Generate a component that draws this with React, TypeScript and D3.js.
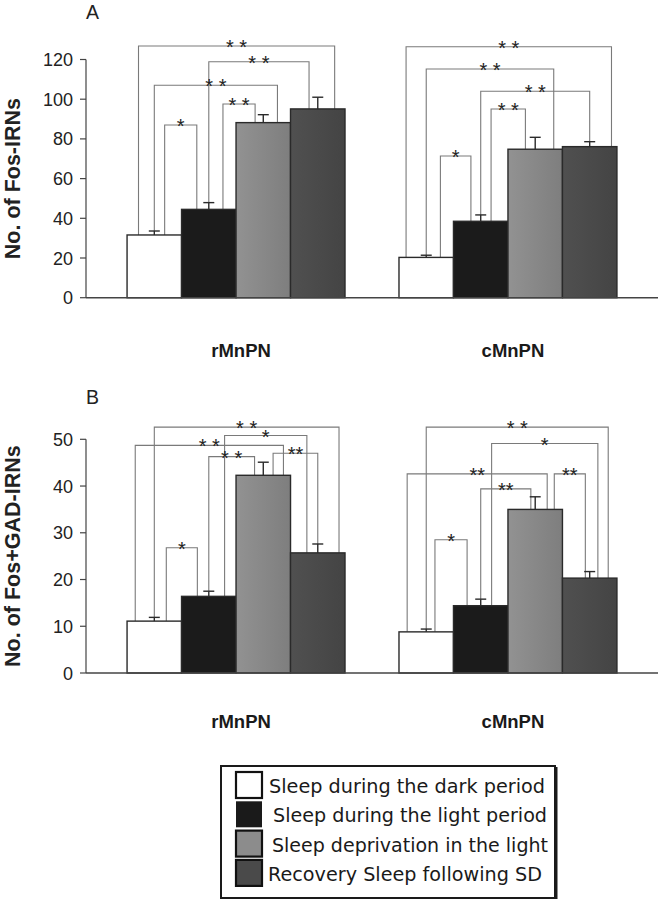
import React from "react";
import * as d3 from "d3";

const categories = ["rMnPN", "cMnPN"];
const seriesNames = [
  "Sleep during the dark period",
  "Sleep during the light period",
  "Sleep deprivation in the light",
  "Recovery Sleep following SD",
];
// Panel A: No. of Fos-IRNs
const fosMeans = [
  [31.6, 44.5, 88.2, 95.1],
  [20.3, 38.5, 74.8, 76.1],
];
const fosErrors = [
  [2.0, 3.4, 4.0, 5.9],
  [1.1, 3.2, 6.0, 2.5],
];
const fosTicks = [0, 20, 40, 60, 80, 100, 120];
// Panel B: No. of Fos+GAD-IRNs
const gadMeans = [
  [11.1, 16.4, 42.3, 25.7],
  [8.8, 14.4, 35.0, 20.3],
];
const gadErrors = [
  [0.8, 1.1, 2.8, 1.9],
  [0.6, 1.4, 2.7, 1.4],
];
const gadTicks = [0, 10, 20, 30, 40, 50];

// significance brackets: category, bar a, bar b, level (data units), label,
// leg ends ("bar" top or "err" top), leg position inside the bar (fraction)
type Br = { c: number; a: number; b: number; level: number; label: string; aTo: string; bTo: string; aPos: number; bPos: number };
const fosBrackets: Br[] = [
  { c: 0, a: 0, b: 3, level: 126.8, label: "* *", aTo: "bar", bTo: "bar", aPos: 0.21, bPos: 0.81 },
  { c: 0, a: 1, b: 3, level: 118.9, label: "* *", aTo: "err", bTo: "bar", aPos: 0.5, bPos: 0.34 },
  { c: 0, a: 0, b: 2, level: 107.0, label: "* *", aTo: "err", bTo: "bar", aPos: 0.5, bPos: 0.76 },
  { c: 0, a: 1, b: 2, level: 97.6, label: "* *", aTo: "bar", bTo: "bar", aPos: 0.76, bPos: 0.35 },
  { c: 0, a: 0, b: 1, level: 87.0, label: "*", aTo: "bar", bTo: "bar", aPos: 0.69, bPos: 0.28 },
  { c: 1, a: 0, b: 3, level: 126.4, label: "* *", aTo: "bar", bTo: "bar", aPos: 0.13, bPos: 0.9 },
  { c: 1, a: 0, b: 2, level: 115.2, label: "* *", aTo: "err", bTo: "bar", aPos: 0.5, bPos: 0.84 },
  { c: 1, a: 1, b: 3, level: 104.0, label: "* *", aTo: "err", bTo: "err", aPos: 0.5, bPos: 0.5 },
  { c: 1, a: 1, b: 2, level: 95.1, label: "* *", aTo: "bar", bTo: "bar", aPos: 0.69, bPos: 0.32 },
  { c: 1, a: 0, b: 1, level: 71.4, label: "*", aTo: "bar", bTo: "bar", aPos: 0.76, bPos: 0.32 },
];
const gadBrackets: Br[] = [
  { c: 0, a: 0, b: 3, level: 52.6, label: "* *", aTo: "err", bTo: "bar", aPos: 0.5, bPos: 0.89 },
  { c: 0, a: 1, b: 3, level: 50.8, label: "*", aTo: "bar", bTo: "bar", aPos: 0.79, bPos: 0.3 },
  { c: 0, a: 0, b: 2, level: 48.7, label: "* *", aTo: "bar", bTo: "bar", aPos: 0.15, bPos: 0.87 },
  { c: 0, a: 1, b: 2, level: 46.3, label: "* *", aTo: "err", bTo: "bar", aPos: 0.5, bPos: 0.34 },
  { c: 0, a: 2, b: 3, level: 47.0, label: "**", aTo: "bar", bTo: "err", aPos: 0.68, bPos: 0.5 },
  { c: 0, a: 0, b: 1, level: 26.8, label: "*", aTo: "bar", bTo: "bar", aPos: 0.72, bPos: 0.29 },
  { c: 1, a: 0, b: 3, level: 52.6, label: "* *", aTo: "err", bTo: "bar", aPos: 0.5, bPos: 0.84 },
  { c: 1, a: 1, b: 3, level: 49.1, label: "*", aTo: "bar", bTo: "bar", aPos: 0.7, bPos: 0.65 },
  { c: 1, a: 0, b: 2, level: 42.6, label: "**", aTo: "bar", bTo: "bar", aPos: 0.15, bPos: 0.72 },
  { c: 1, a: 1, b: 2, level: 39.4, label: "**", aTo: "err", bTo: "bar", aPos: 0.5, bPos: 0.42 },
  { c: 1, a: 2, b: 3, level: 42.6, label: "**", aTo: "bar", bTo: "bar", aPos: 0.85, bPos: 0.42 },
  { c: 1, a: 0, b: 1, level: 28.5, label: "*", aTo: "bar", bTo: "bar", aPos: 0.66, bPos: 0.25 },
];

const fills = ["#ffffff", "#1b1b1b", "url(#gGray)", "url(#gDark)"];
const legendFills = ["#ffffff", "#1a1a1a", "#8c8c8c", "#4a4a4a"];

const W = 658;
const H = 900;
const axisX = 86;
const sans = "'Liberation Sans', Arial, sans-serif";

const x0 = d3.scaleBand<string>().domain(categories).range([axisX, W]).paddingInner(0.1985).paddingOuter(0.151);
const x1 = d3.scaleBand<number>().domain([0, 1, 2, 3]).range([0, x0.bandwidth()]).padding(0);

function Panel(props: {
  means: number[][];
  errors: number[][];
  ticks: number[];
  yRange: [number, number];
  brackets: Br[];
  letter: string;
  letterY: number;
  title: string;
  labelY: number;
}) {
  const { means, errors, ticks, yRange, brackets, letter, letterY, title, labelY } = props;
  const y = d3.scaleLinear().domain([0, ticks[ticks.length - 1]]).range(yRange);
  const bw = x1.bandwidth();
  const barX = (c: number, i: number) => (x0(categories[c]) as number) + (x1(i) as number);
  const endY = (c: number, i: number, to: string) => (to === "err" ? y(means[c][i] + errors[c][i]) : y(means[c][i]));
  const midY = (yRange[0] + yRange[1]) / 2;
  return (
    <g>
      <text x={axisX} y={letterY} fontFamily={sans} fontSize={19.5} fill="#222">{letter}</text>
      <text transform={`translate(20,${midY}) rotate(-90)`} textAnchor="middle" fontFamily={sans} fontSize={21.5} fontWeight="bold" fill="#222">{title}</text>
      {/* brackets */}
      {brackets.map((b, k) => {
        const xa = barX(b.c, b.a) + b.aPos * bw;
        const xb = barX(b.c, b.b) + b.bPos * bw;
        const yl = y(b.level);
        const ya = endY(b.c, b.a, b.aTo);
        const yb = endY(b.c, b.b, b.bTo);
        return (
          <g key={k}>
            <path d={`M${xa},${ya}V${yl}H${xb}V${yb}`} fill="none" stroke="#7a7a7a" strokeWidth={1.1} />
            <text x={(xa + xb) / 2} y={yl + 8} textAnchor="middle" fontFamily={sans} fontSize={20} fill="#222">{b.label}</text>
          </g>
        );
      })}
      {/* bars */}
      {means.map((row, c) =>
        row.map((v, i) => (
          <rect key={`${c}-${i}`} x={barX(c, i)} y={y(v)} width={bw} height={y(0) - y(v)} fill={fills[i]} stroke="#2a2a2a" strokeWidth={1.4} />
        ))
      )}
      {/* error bars */}
      {means.map((row, c) =>
        row.map((v, i) => {
          const cx = barX(c, i) + bw / 2;
          const yt = y(v + errors[c][i]);
          return (
            <g key={`e${c}-${i}`} stroke="#2a2a2a" strokeWidth={1.4}>
              <line x1={cx} x2={cx} y1={y(v)} y2={yt} />
              <line x1={cx - 5.5} x2={cx + 5.5} y1={yt} y2={yt} />
            </g>
          );
        })
      )}
      {/* axes */}
      <line x1={axisX} x2={axisX} y1={y(ticks[ticks.length - 1])} y2={y(0)} stroke="#444" strokeWidth={1.2} />
      <line x1={axisX} x2={W} y1={y(0)} y2={y(0)} stroke="#444" strokeWidth={1.4} />
      {ticks.map((t) => (
        <g key={t}>
          <line x1={axisX - 6} x2={axisX} y1={y(t)} y2={y(t)} stroke="#444" strokeWidth={1.2} />
          <text x={axisX - 13} y={y(t) + 6.5} textAnchor="end" fontFamily={sans} fontSize={18} fill="#222">{t}</text>
        </g>
      ))}
      {categories.map((c) => (
        <text key={c} x={(x0(c) as number) + x0.bandwidth() / 2 + 5} y={labelY} textAnchor="middle" fontFamily={sans} fontSize={18.5} fontWeight="bold" fill="#1a1a1a">{c}</text>
      ))}
    </g>
  );
}

export default function App() {
  const legendRowY = d3.range(seriesNames.length).map((i) => 772 + i * 29.3);
  const legendTextX = [269, 273, 272, 268];
  const legendTextW = [276, 274, 276, 274];
  return (
    <svg width={W} height={H} style={{ position: "absolute", left: 0, top: 0, background: "#fff" }}>
      <defs>
        <linearGradient id="gGray" x1="0" x2="1" y1="0" y2="0">
          <stop offset="0" stopColor="#929292" />
          <stop offset="1" stopColor="#7e7e7e" />
        </linearGradient>
        <linearGradient id="gDark" x1="0" x2="1" y1="0" y2="0">
          <stop offset="0" stopColor="#505050" />
          <stop offset="1" stopColor="#444444" />
        </linearGradient>
      </defs>
      <rect x={0} y={0} width={W} height={H} fill="#fff" />
      <Panel means={fosMeans} errors={fosErrors} ticks={fosTicks} yRange={[297.7, 59.5]} brackets={fosBrackets} letter="A" letterY={19} title="No. of Fos-IRNs" labelY={357} />
      <Panel means={gadMeans} errors={gadErrors} ticks={gadTicks} yRange={[673, 439.3]} brackets={gadBrackets} letter="B" letterY={404} title="No. of Fos+GAD-IRNs" labelY={728} />
      {/* legend */}
      <rect x={221} y={766} width={334} height={132} fill="#fff" stroke="#1a1a1a" strokeWidth={2} />
      <line x1={556} x2={556} y1={767} y2={899} stroke="#1a1a1a" strokeWidth={3} />
      {seriesNames.map((s, i) => (
        <g key={s}>
          <rect x={236} y={legendRowY[i]} width={26} height={26} fill={legendFills[i]} stroke="#111" strokeWidth={i === 1 ? 0 : 2.2} />
          <text x={legendTextX[i]} y={legendRowY[i] + 21} fontFamily="'DejaVu Sans', sans-serif" fontSize={19.5} fill="#1a1a1a" textLength={legendTextW[i]} lengthAdjust="spacingAndGlyphs">{s}</text>
        </g>
      ))}
    </svg>
  );
}
